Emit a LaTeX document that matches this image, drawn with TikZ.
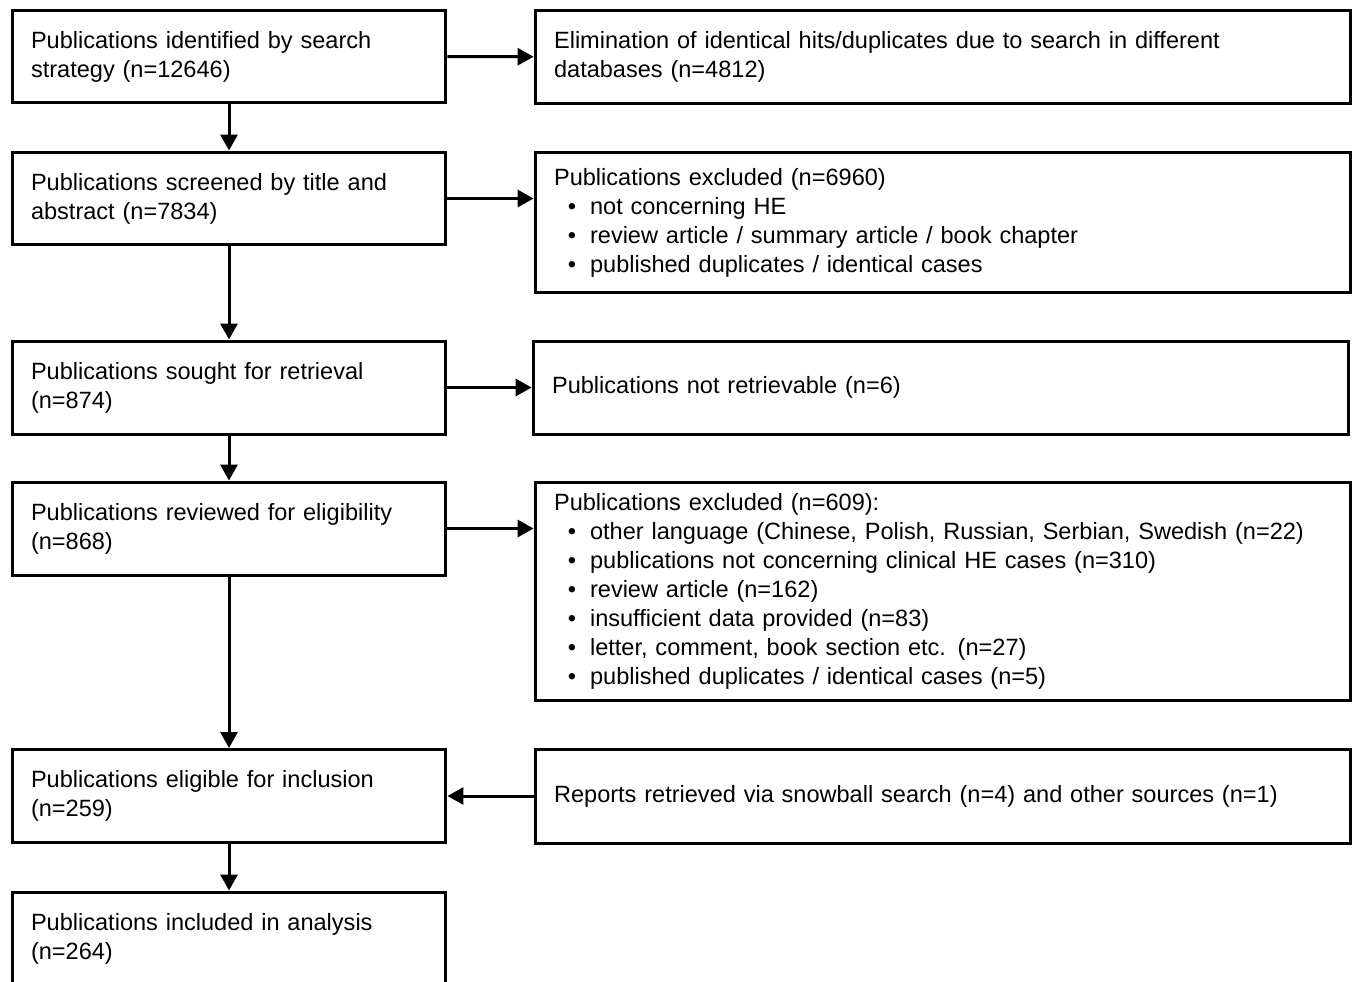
\documentclass[tikz,border=0pt]{standalone}
\usepackage{fontspec}
\setmainfont{Liberation Sans}
\usetikzlibrary{arrows.meta}
\newcommand{\itm}{\makebox[0.72cm]{\textbullet}}
\begin{document}
\begin{tikzpicture}[x=0.02cm, y=-0.02cm, >={Triangle[length=0.32cm,width=0.34cm]}, font=\fontsize{13.4}{16.5}\selectfont]
	\tikzset{
		lbox/.style={draw, line width=0.06cm, minimum width=8.68cm, minimum height=1.86cm, text width=7.92cm, inner xsep=0.38cm, align=left},
		rbox/.style={lbox, minimum width=16.32cm, text width=15.56cm},
		link/.style={->, line width=0.06cm}
	}
	\def\lx{229} \def\rx{943}
	\useasboundingbox (0,0) rectangle (1354,981);
	\clip (0,0) rectangle (1354,981);
	% left column
	\node[lbox] (ident) at (\lx,56.5) {Publications identified by search\\strategy (n=12646)};
	\node[lbox] (screen) at (\lx,198.5) {Publications screened by title and\\abstract (n=7834)};
	\node[lbox] (sought) at (\lx,387.5) {Publications sought for retrieval\\(n=874)};
	\node[lbox] (review) at (\lx,528.5) {Publications reviewed for eligibility\\(n=868)};
	\node[lbox] (elig) at (\lx,796) {Publications eligible for inclusion\\(n=259)};
	\node[lbox] (incl) at (\lx,938.5) {Publications included in analysis\\(n=264)};
	% right column
	\node[rbox, minimum height=1.88cm] (dupl) at (\rx,57) {Elimination of identical hits/duplicates due to search in different\\databases (n=4812)};
	\node[rbox, minimum height=2.82cm] (exclA) at (\rx,222.5) {Publications excluded (n=6960)\\
		\itm not concerning HE\\
		\itm review article / summary article / book chapter\\
		\itm published duplicates / identical cases};
	\node[rbox] (notret) at (941,387.5) {Publications not retrievable (n=6)};
	\node[rbox, minimum height=4.38cm] (exclB) at (\rx,591.5) {Publications excluded (n=609):\\
		\itm other language (Chinese, Polish, Russian, Serbian, Swedish (n=22)\\
		\itm publications not concerning clinical HE cases (n=310)\\
		\itm review article (n=162)\\
		\itm insufficient data provided (n=83)\\
		\itm letter, comment, book section etc. (n=27)\\
		\itm published duplicates / identical cases (n=5)};
	\node[rbox, minimum height=1.88cm] (snow) at (\rx,796) {Reports retrieved via snowball search (n=4) and other sources (n=1)};
	% arrows
	\draw[link] (ident) -- (screen);
	\draw[link] (screen) -- (sought);
	\draw[link] (sought) -- (review);
	\draw[link] (review) -- (elig);
	\draw[link] (elig) -- (incl);
	\draw[link] (ident) -- (dupl);
	\draw[link] (screen.east) -- (screen.east -| exclA.west);
	\draw[link] (sought) -- (notret);
	\draw[link] (review.east) -- (review.east -| exclB.west);
	\draw[link] (snow.west) -- (snow.west -| elig.east);
\end{tikzpicture}
\end{document}
